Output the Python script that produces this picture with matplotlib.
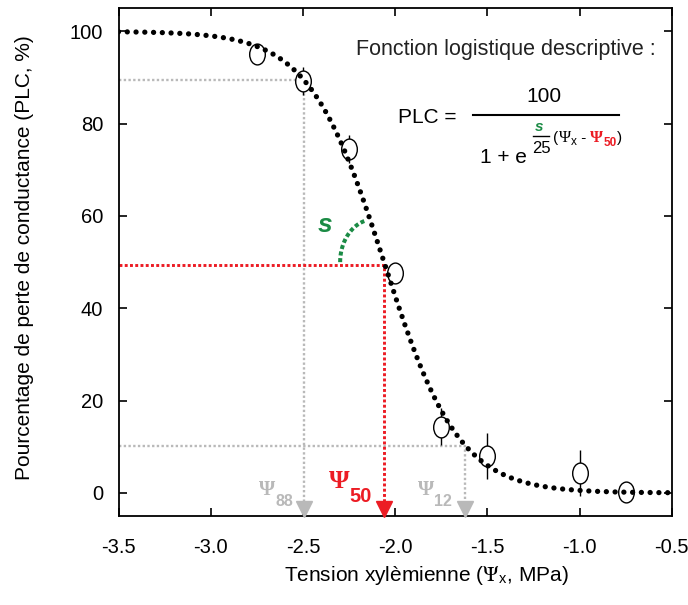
import numpy as np
import matplotlib
matplotlib.use("Agg")
import matplotlib.pyplot as plt
from matplotlib.path import Path
from matplotlib.transforms import Affine2D

plt.rcParams['font.family'] = ['Liberation Sans', 'DejaVu Sans']
plt.rcParams['mathtext.fontset'] = 'stix'
plt.rcParams['axes.unicode_minus'] = False

# ---- data ----
psi_obs = [-2.75, -2.5, -2.25, -2.0, -1.75, -1.5, -1.0, -0.75]
plc_obs = [95.2, 89.2, 74.5, 47.6, 14.3, 8.0, 4.4, 0.1]
plc_err = [0.0, 3.0, 3.0, 0.0, 4.0, 5.0, 5.0, 0.0]
P50 = -2.06          # MPa
S_SLOPE = 123.0      # %/MPa
PSI88 = -2.494
PSI12 = -1.621
PLC88_LINE = 89.5
PLC12_LINE = 10.2
PLC50_LINE = 49.3
xticks = [-3.5, -3.0, -2.5, -2.0, -1.5, -1.0, -0.5]
yticks = [0, 20, 40, 60, 80, 100]

GRAY = '#b9b9b9'
RED = '#ec1c24'
GREEN = '#1b8b45'

fig = plt.figure(figsize=(6.88, 6.05), dpi=100)
ax = fig.add_axes([118.5/688, 1-516/605, (671.7-118.5)/688, (516-8.3)/605])
ax.set_xlim(-3.5, -0.5)
ax.set_ylim(-5, 105)

# fitted logistic curve
xc = np.linspace(-3.5, -0.5, 600)
yc = 100.0 / (1.0 + np.exp(S_SLOPE / 25.0 * (xc - P50)))
ax.plot(xc, yc, color='black', lw=3.8, linestyle=(0, (0.01, 1.65)),
        dash_capstyle='round', zorder=5)

# guide lines
ax.plot([-3.5, PSI88, PSI88], [PLC88_LINE, PLC88_LINE, -1.8], color=GRAY, lw=1.7,
        linestyle=(0, (1, 1)), zorder=1)
ax.plot([-3.5, PSI12, PSI12], [PLC12_LINE, PLC12_LINE, -1.8], color=GRAY, lw=1.7,
        linestyle=(0, (1, 1)), zorder=1)
ax.plot([-3.5, P50, P50], [PLC50_LINE, PLC50_LINE, -1.8], color=RED, lw=2.1,
        linestyle=(0, (1, 0.8)), zorder=2)

# arrow heads
ax.plot([PSI88, PSI12], [-3.4, -3.4], linestyle='none', marker='v', ms=11,
        color=GRAY, clip_on=False, zorder=6)
ax.plot([P50], [-3.4], linestyle='none', marker='v', ms=11,
        color=RED, clip_on=False, zorder=6)

# error bars + ellipse markers
ax.errorbar(psi_obs, plc_obs, yerr=plc_err, fmt='none', ecolor='black',
            elinewidth=1.0, capsize=0, zorder=3)
ell = Path.unit_circle().transformed(Affine2D().scale(0.75, 1.0))
ax.plot(psi_obs, plc_obs, linestyle='none', marker=ell, ms=15,
        mfc='white', mec='black', mew=1.0, zorder=4)

# slope arc
th = np.radians(np.linspace(180, 103, 40))
ax.plot(-2.114 + 0.184*np.cos(th), 50.0 + 9.3*np.sin(th), color=GREEN, lw=2.9,
        linestyle=(0, (1, 0.65)), zorder=2)
ax.text(-2.379, 58.0, 's', color=GREEN, fontsize=19, fontweight='bold',
        fontstyle='italic', ha='center', va='center')

# axes style
ax.set_xticks(xticks)
ax.set_yticks(yticks)
ax.set_xticklabels([f'{v:.1f}' for v in xticks])
ax.set_yticklabels([str(v) for v in yticks])
ax.tick_params(direction='in', length=5.8, width=1.2, labelsize=14.5,
               top=True, right=True)
ax.tick_params(axis='x', pad=16)
ax.tick_params(axis='y', pad=11)
for sp in ax.spines.values():
    sp.set_linewidth(1.3)

ax.set_xlabel('Tension xylèmienne ($\\Psi_{\\mathregular{x}}$, MPa)', fontsize=15)
ax.set_ylabel('Pourcentage de perte de conductance (PLC, %)', fontsize=15)
ax.xaxis.set_label_coords(0.556, -0.094)
ax.yaxis.set_label_coords(-0.153, 0.509)

# formula
ax.text(-2.212, 96.1, 'Fonction logistique descriptive :', fontsize=15.5,
        ha='left', va='center', color='#222222')
ax.text(-1.984, 80.1, 'PLC =', fontsize=15, ha='left', va='baseline')
ax.text(-1.193, 84.8, '100', fontsize=15, ha='center', va='baseline')
ax.plot([-1.578, -0.786], [81.8, 81.8], color='black', lw=1.5)
ax.text(-1.540, 71.4, '1 + e', fontsize=15, ha='left', va='baseline')
ax.text(-1.218, 79.2, 's', color=GREEN, fontsize=11, fontweight='bold',
        fontstyle='italic', ha='center', va='center')
ax.plot([-1.252, -1.165], [77.3, 77.3], color='black', lw=1.0)
ax.text(-1.209, 74.7, '25', fontsize=12, ha='center', va='center')

fig.canvas.draw()
renderer = fig.canvas.get_renderer()


def chain(x0, y0, pieces):
    xd, yd = ax.transData.transform((x0, y0))
    for s, props, dx, dy in pieces:
        px, py = ax.transData.inverted().transform((xd + dx, yd + dy))
        t = ax.text(px, py, s, ha='left', va='baseline', **props)
        bb = t.get_window_extent(renderer)
        xd = bb.x1


serif = ['Liberation Serif', 'DejaVu Serif']
chain(-1.144, 76.0, [
    ('(', dict(fontsize=11), 0, 0),
    ('Ψ', dict(fontsize=12, family=serif), 0.5, 0),
    ('x', dict(fontsize=8.5), 0, -3),
    (' - ', dict(fontsize=11), 0, 0),
    ('Ψ', dict(fontsize=12, family=serif, fontweight='bold', color=RED), 0, 0),
    ('50', dict(fontsize=8.5, fontweight='bold', color=RED), 0, -4),
    (')', dict(fontsize=11), 0.5, 0),
])

chain(-2.738, -0.43, [
    ('Ψ', dict(fontsize=15, family=serif, fontweight='bold', color=GRAY), 0, 0),
    ('88', dict(fontsize=11.5, fontweight='bold', color=GRAY), 0, -11),
])
chain(-1.876, -0.43, [
    ('Ψ', dict(fontsize=15, family=serif, fontweight='bold', color=GRAY), 0, 0),
    ('12', dict(fontsize=11.5, fontweight='bold', color=GRAY), 0, -11),
])
chain(-2.358, 1.08, [
    ('Ψ', dict(fontsize=19, family=serif, fontweight='bold', color=RED), 0, 0),
    ('50', dict(fontsize=14.5, fontweight='bold', color=RED), 0, -14),
])

fig.savefig('out.png', dpi=100)
